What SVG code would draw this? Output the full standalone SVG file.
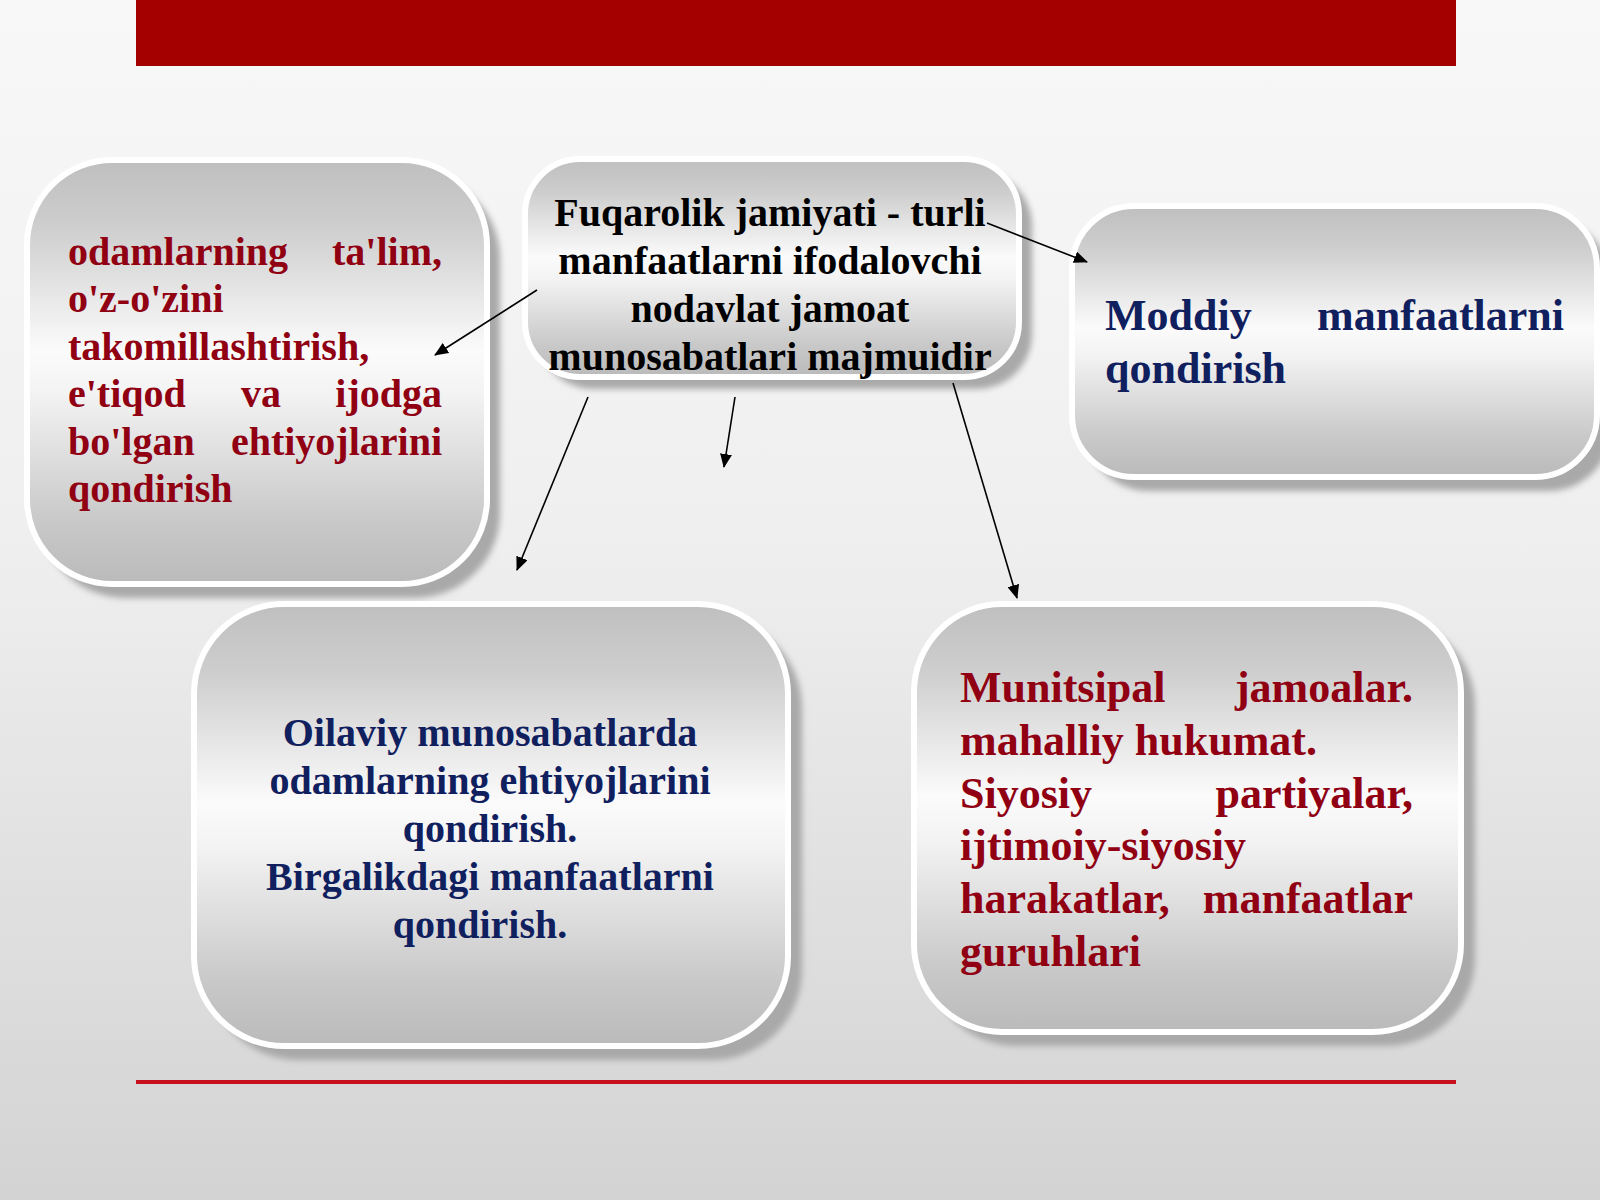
<svg xmlns="http://www.w3.org/2000/svg" width="1600" height="1200" viewBox="0 0 1600 1200">
  <defs>
    <linearGradient id="bg" x1="0" y1="0" x2="0" y2="1">
      <stop offset="0" stop-color="#f8f8f8"/>
      <stop offset="0.45" stop-color="#efefef"/>
      <stop offset="1" stop-color="#d3d3d3"/>
    </linearGradient>
    <linearGradient id="boxfill" x1="0" y1="0" x2="0" y2="1">
      <stop offset="0" stop-color="#bfbfbf"/>
      <stop offset="0.15" stop-color="#cdcdcd"/>
      <stop offset="0.45" stop-color="#fbfbfb"/>
      <stop offset="0.55" stop-color="#f3f3f3"/>
      <stop offset="0.85" stop-color="#c9c9c9"/>
      <stop offset="1" stop-color="#bababa"/>
    </linearGradient>
    <filter id="blur" x="-10%" y="-10%" width="120%" height="120%">
      <feGaussianBlur stdDeviation="3"/>
    </filter>
    <marker id="arr" markerUnits="userSpaceOnUse" markerWidth="14" markerHeight="12" refX="13" refY="6" orient="auto">
      <path d="M0,0 L14,6 L0,12 z" fill="#000"/>
    </marker>
  </defs>
  <style>
    .shadow { fill: #a9a9a9; filter: url(#blur); }
    .box { fill: url(#boxfill); stroke: #ffffff; stroke-width: 6; }
    .t { font-family: "Liberation Serif", "Times New Roman", serif; font-weight: bold; }
    .red { fill: #900012; font-size: 40px; }
    .red44 { fill: #900012; font-size: 44px; }
    .navy { fill: #10205e; font-size: 40px; }
    .navy44 { fill: #10205e; font-size: 44px; }
    .blk { fill: #000000; font-size: 40px; }
    .conn { stroke: #000; stroke-width: 1.6; fill: none; marker-end: url(#arr); }
  </style>

  <rect x="0" y="0" width="1600" height="1200" fill="url(#bg)"/>
  <rect x="136" y="0" width="1320" height="66" fill="#a50000"/>
  <rect x="136" y="1080" width="1320" height="4" fill="#c8101c"/>

  <g id="node-left">
    <rect class="shadow" x="40" y="174" width="460" height="424" rx="85"/>
    <rect class="box" x="27" y="160" width="460" height="424" rx="85"/>
    <text class="t red" x="68" y="265">odamlarning</text>
    <text class="t red" x="442" y="265" text-anchor="end">ta'lim,</text>
    <text class="t red" x="68" y="312">o'z-o'zini</text>
    <text class="t red" x="68" y="360">takomillashtirish,</text>
    <text class="t red" x="68" y="407">e'tiqod</text>
    <text class="t red" x="241" y="407">va</text>
    <text class="t red" x="442" y="407" text-anchor="end">ijodga</text>
    <text class="t red" x="68" y="455">bo'lgan</text>
    <text class="t red" x="442" y="455" text-anchor="end">ehtiyojlarini</text>
    <text class="t red" x="68" y="502">qondirish</text>
  </g>

  <g id="node-center">
    <rect class="shadow" x="538" y="171" width="494" height="218" rx="55"/>
    <rect class="box" x="525" y="159" width="494" height="218" rx="55"/>
    <text class="t blk" x="770" y="226" text-anchor="middle">Fuqarolik jamiyati - turli</text>
    <text class="t blk" x="770" y="274" text-anchor="middle">manfaatlarni ifodalovchi</text>
    <text class="t blk" x="770" y="322" text-anchor="middle">nodavlat jamoat</text>
    <text class="t blk" x="770" y="370" text-anchor="middle">munosabatlari majmuidir</text>
  </g>

  <g id="node-right">
    <rect class="shadow" x="1086" y="220" width="525" height="271" rx="62"/>
    <rect class="box" x="1072" y="206" width="525" height="271" rx="62"/>
    <text class="t navy44" x="1105" y="330">Moddiy</text>
    <text class="t navy44" x="1564" y="330" text-anchor="end">manfaatlarni</text>
    <text class="t navy44" x="1105" y="383">qondirish</text>
  </g>

  <g id="node-bottom-left">
    <rect class="shadow" x="208" y="618" width="594" height="442" rx="90"/>
    <rect class="box" x="194" y="604" width="594" height="442" rx="90"/>
    <text class="t navy" x="490" y="746" text-anchor="middle">Oilaviy munosabatlarda</text>
    <text class="t navy" x="490" y="794" text-anchor="middle">odamlarning ehtiyojlarini</text>
    <text class="t navy" x="490" y="842" text-anchor="middle">qondirish.</text>
    <text class="t navy" x="490" y="890" text-anchor="middle">Birgalikdagi manfaatlarni</text>
    <text class="t navy" x="480" y="938" text-anchor="middle">qondirish.</text>
  </g>

  <g id="node-bottom-right">
    <rect class="shadow" x="928" y="618" width="547" height="428" rx="88"/>
    <rect class="box" x="914" y="604" width="547" height="428" rx="88"/>
    <text class="t red44" x="960" y="702">Munitsipal</text>
    <text class="t red44" x="1413" y="702" text-anchor="end">jamoalar.</text>
    <text class="t red44" x="960" y="755">mahalliy hukumat.</text>
    <text class="t red44" x="960" y="808">Siyosiy</text>
    <text class="t red44" x="1413" y="808" text-anchor="end">partiyalar,</text>
    <text class="t red44" x="960" y="860">ijtimoiy-siyosiy</text>
    <text class="t red44" x="960" y="913">harakatlar,</text>
    <text class="t red44" x="1413" y="913" text-anchor="end">manfaatlar</text>
    <text class="t red44" x="960" y="966">guruhlari</text>
  </g>

  <g id="connectors">
    <line class="conn" x1="987" y1="223" x2="1087" y2="262"/>
    <line class="conn" x1="537" y1="290" x2="435" y2="355"/>
    <line class="conn" x1="588" y1="397" x2="517" y2="570"/>
    <line class="conn" x1="735" y1="397" x2="724" y2="467"/>
    <line class="conn" x1="953" y1="383" x2="1017" y2="598"/>
  </g>
</svg>
